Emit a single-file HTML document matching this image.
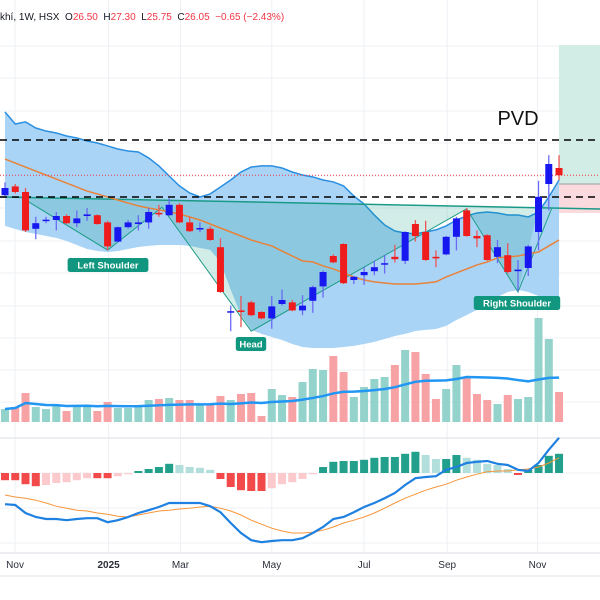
<!DOCTYPE html>
<html><head><meta charset="utf-8"><style>
html,body{margin:0;padding:0;background:#fff;width:600px;height:600px;overflow:hidden}
svg{display:block}
text{font-family:"Liberation Sans","DejaVu Sans",sans-serif}
</style></head><body>
<svg id="chart" width="600" height="600" viewBox="0 0 600 600" xmlns="http://www.w3.org/2000/svg"></svg>
<script>
// ---- data ----
const opens  = [24.80,25.35,25.0,22.7,23.2,23.25,23.5,23.05,23.5,23.55,23.1,21.9,22.8,23.0,23.1,23.7,23.55,24.2,23.1,22.7,22.7,21.55,17.5,17.6,18.1,17.5,17.1,18.0,18.1,17.6,18.2,19.1,21.0,21.75,19.5,19.8,20.05,20.5,20.95,20.7,23.0,22.5,20.95,21.1,22.2,23.85,22.25,22.3,20.95,21.05,20.05,20.25,22.5,25.5,26.5];
const highs  = [25.60,25.5,25.25,23.45,23.45,23.75,23.6,23.85,24.0,23.6,23.2,22.85,23.25,23.55,24.0,24.2,24.6,24.3,23.45,23.1,22.85,22.1,17.9,18.5,18.2,17.55,18.5,18.9,18.25,18.55,19.15,20.1,21.1,21.8,19.75,20.3,20.7,21.05,21.7,22.55,23.25,23.2,21.35,22.25,23.45,24.0,22.6,22.35,22.0,21.8,20.75,21.7,25.7,27.3,27.3];
const lows   = [24.75,24.9,22.5,22.05,23.05,22.6,23.0,22.8,23.2,22.95,21.35,21.85,22.7,22.6,22.7,23.45,23.5,23.05,22.5,22.5,21.95,18.7,16.3,16.55,17.25,17.05,16.45,17.9,17.55,17.3,17.45,18.4,20.55,19.25,19.25,19.2,19.8,19.9,20.6,20.5,21.9,20.7,20.3,21.05,21.35,22.2,21.55,20.7,20.55,19.9,18.8,19.75,21.35,23.85,25.75];
const closes = [25.25,25.0,22.6,23.05,23.27,23.5,23.05,23.35,23.6,23.0,21.6,22.8,23.1,23.1,23.75,23.6,24.2,23.1,22.55,22.75,22.0,18.75,17.55,17.5,17.3,17.1,17.85,18.25,17.6,17.9,19.05,20.0,20.6,19.3,19.7,20.0,20.3,20.55,20.8,22.5,22.25,20.75,20.85,22.2,23.35,22.25,22.1,20.75,21.55,20.0,20.15,21.6,24.7,26.75,26.05];
const bbUpper = [30.0,29.25,29.38,29.0,28.81,28.69,28.5,28.38,28.19,28.06,27.88,27.69,27.56,27.5,27.13,26.63,26.0,25.38,24.94,24.69,24.88,25.31,25.75,26.25,26.56,26.63,26.63,26.5,26.25,26.06,25.94,25.75,25.63,25.38,24.75,24.25,23.56,22.94,22.56,22.44,22.38,22.5,22.63,22.88,23.25,23.5,23.69,23.75,23.69,23.56,23.56,23.44,23.75,24.69,25.75];
const bbLower = [22.88,22.69,22.5,22.38,22.25,22.13,21.94,21.69,21.44,21.31,21.25,21.31,21.44,21.56,21.63,21.69,21.69,21.69,21.63,21.5,21.38,20.63,18.88,17.31,16.38,16.13,15.94,15.75,15.5,15.31,15.25,15.25,15.25,15.31,15.38,15.5,15.63,15.81,16.0,16.13,16.31,16.38,16.44,16.63,17.0,17.31,17.63,18.06,18.44,18.75,18.88,18.75,18.5,18.38,18.25];
const maLine = [27.06,26.81,26.56,26.31,26.06,25.81,25.56,25.31,25.06,24.88,24.69,24.5,24.31,24.13,24.0,23.88,23.75,23.63,23.44,23.25,23.0,22.75,22.5,22.25,22.0,21.81,21.63,21.31,21.0,20.69,20.63,20.38,20.19,19.94,19.69,19.5,19.38,19.31,19.25,19.25,19.25,19.31,19.38,19.69,19.94,20.19,20.44,20.63,20.88,20.94,21.0,21.13,21.25,21.63,22.0];
const volumes = [1.3,1.5,2.9,1.5,1.3,1.6,1.1,1.7,1.7,1.1,2.0,1.4,1.4,1.7,2.2,2.3,2.4,2.2,2.2,1.7,1.7,2.6,2.2,2.8,2.9,0.6,3.3,2.7,2.5,4.0,5.3,5.2,6.6,5.0,2.5,3.5,4.3,4.5,5.7,7.2,7.0,4.8,2.3,3.3,5.7,4.5,2.8,2.2,1.8,2.7,2.3,2.5,10.4,8.3,3.0];
const macdLine = [-0.78,-0.8,-1.0,-1.1,-1.15,-1.15,-1.18,-1.15,-1.13,-1.13,-1.23,-1.18,-1.1,-1.0,-0.93,-0.85,-0.75,-0.75,-0.75,-0.75,-0.83,-0.98,-1.25,-1.5,-1.68,-1.73,-1.7,-1.68,-1.68,-1.63,-1.5,-1.35,-1.15,-1.1,-0.98,-0.85,-0.75,-0.63,-0.5,-0.3,-0.13,-0.1,-0.08,0.08,0.15,0.25,0.28,0.3,0.23,0.2,0.08,0.05,0.25,0.58,0.88];
const signalLine = [-0.55,-0.6,-0.63,-0.68,-0.75,-0.83,-0.88,-0.93,-0.95,-1.0,-1.03,-1.08,-1.1,-1.05,-1.0,-0.95,-0.93,-0.9,-0.88,-0.85,-0.83,-0.88,-0.95,-1.05,-1.18,-1.28,-1.38,-1.45,-1.5,-1.5,-1.48,-1.43,-1.35,-1.25,-1.18,-1.1,-1.0,-0.88,-0.75,-0.63,-0.53,-0.43,-0.35,-0.28,-0.18,-0.1,-0.03,0.03,0.05,0.05,0.08,0.1,0.15,0.25,0.38];
const macdHist = [-0.18,-0.18,-0.28,-0.33,-0.3,-0.25,-0.23,-0.18,-0.13,-0.13,-0.13,-0.08,-0.03,0.05,0.1,0.15,0.23,0.2,0.15,0.13,0.08,-0.15,-0.35,-0.43,-0.45,-0.45,-0.38,-0.28,-0.23,-0.15,-0.03,0.15,0.28,0.3,0.3,0.33,0.38,0.4,0.4,0.48,0.53,0.45,0.35,0.35,0.45,0.38,0.33,0.23,0.2,0.1,-0.05,0.08,0.2,0.43,0.48];
const levelPrices = [28.25, 24.69];
const lastPrice = 26.05;
const neckline = [24.69, 23.94];           // price at left edge / right edge
const patternIdx = [1.5, 10, 15.3, 24, 45, 50, 53.3];
const patternPrices = [24.7, 21.37, 24.05, 16.3, 23.95, 18.75, 24.0];
const monthLabels = ["Nov","2025","Mar","May","Jul","Sep","Nov"];
const monthIdx = [0.98, 10.1, 17.1, 26.0, 35.0, 43.1, 51.9];

// ---- axes ----
const xOf = i => 5 + i * 10.26;
const yP = p => 592 - p * 16;
const yV = v => 422 - v * 10;
const yM = v => 473 - v * 40;

const NS = "http://www.w3.org/2000/svg";
const svg = document.getElementById("chart");
function el(tag, attrs, parent) {
  const e = document.createElementNS(NS, tag);
  for (const k in attrs) e.setAttribute(k, attrs[k]);
  (parent || svg).appendChild(e);
  return e;
}
function grp(name) {
  const g = el("g", {});
  
  
  return g;
}

// grid
const grid = grp("grid-lines");
[46,78,111,143,176,208,241,273,306,338,370,402].forEach(y => el("line",{x1:0,x2:600,y1:y,y2:y,stroke:"#eef0f4","stroke-width":1},grid));
[473,508,543].forEach(y => el("line",{x1:0,x2:600,y1:y,y2:y,stroke:"#eef0f4","stroke-width":1},grid));
monthIdx.forEach(i => el("line",{x1:xOf(i),x2:xOf(i),y1:0,y2:553,stroke:"#eef0f4","stroke-width":1},grid));
el("line",{x1:0,x2:600,y1:438,y2:438,stroke:"#e6e8ee","stroke-width":1.5},grid);
el("line",{x1:0,x2:600,y1:553,y2:553,stroke:"#e6e8ee","stroke-width":1.5},grid);
el("line",{x1:0,x2:600,y1:576,y2:576,stroke:"#eceef2","stroke-width":1.5},grid);

// position tool boxes
const pos = grp("long-position-tool");
el("rect",{x:559,y:45,width:41,height:139,fill:"#d2ece6"},pos);
el("rect",{x:559,y:184,width:41,height:29,fill:"#fadadd"},pos);
el("line",{x1:559,x2:600,y1:184,y2:184,stroke:"#9aa0a8","stroke-width":1},pos);

// bollinger fill
const n = closes.length;
const bb = grp("bollinger-bands");
let d = "";
for (let i=0;i<n;i++) d += (i?"L":"M") + xOf(i) + "," + yP(bbUpper[i]);
for (let i=n-1;i>=0;i--) d += "L" + xOf(i) + "," + yP(bbLower[i]);
const bbFill = el("path",{d:d+"Z",fill:"#aad4f6"},bb);

let du = "";
for (let i=0;i<n;i++) du += (i?"L":"M") + xOf(i) + "," + yP(bbUpper[i]);
const bbUp = el("path",{d:du,fill:"none",stroke:"#2b8fe0","stroke-width":1.5},bb);


// head & shoulders pattern
const hs = grp("head-and-shoulders-pattern");
const neckY = x => yP(neckline[0] + (neckline[1]-neckline[0]) * x / 600);
let pp = patternIdx.map((i,k)=>[xOf(i), yP(patternPrices[k])]);
let fillPts = pp.slice(0,6).map(p=>p.join(",")).join(" ") + " " + xOf(52) + "," + neckY(xOf(52));
el("polygon",{points:fillPts,fill:"rgba(8,153,129,0.18)"},hs);
el("polyline",{points:pp.map(p=>p.join(",")).join(" "),fill:"none",stroke:"#1f9c88","stroke-width":1},hs);
const neck = el("line",{x1:0,x2:600,y1:neckY(0),y2:neckY(600),stroke:"#1a9a86","stroke-width":1.5},hs);


// MA line
let dm = "";
for (let i=0;i<n;i++) dm += (i?"L":"M") + xOf(i) + "," + yP(maLine[i]);
const ma = el("path",{d:dm,fill:"none",stroke:"#e8823a","stroke-width":1.5});



// dashed levels
levelPrices.forEach(p => {
  const l = el("line",{x1:0,x2:600,y1:yP(p),y2:yP(p),stroke:"#000","stroke-width":1.5,"stroke-dasharray":"7,5"});
  
  
});
const lp = el("line",{x1:0,x2:600,y1:yP(lastPrice),y2:yP(lastPrice),stroke:"#f23645","stroke-width":1,"stroke-dasharray":"1,2"});



// volume
const vg = grp("volume-bars");
for (let i=0;i<n;i++) {
  const up = closes[i] >= opens[i];
  const r = el("rect",{x:xOf(i)-4,y:yV(volumes[i]),width:8,height:yV(0)-yV(volumes[i]),fill:up?"#93d3cc":"#f7a3a6"},vg);
  
  
}
let dv = "";
for (let i=0;i<n;i++) {
  const s = volumes.slice(Math.max(0,i-19), i+1);
  const avg = s.reduce((a,b)=>a+b,0)/s.length;
  dv += (i?"L":"M") + xOf(i) + "," + yV(avg);
}
const vma = el("path",{d:dv,fill:"none",stroke:"#2196f3","stroke-width":2.5});



// candles
const cg = grp("candlesticks");
for (let i=0;i<n;i++) {
  const up = closes[i] >= opens[i];
  const col = up ? "#1717f0" : "#ee1c1c";
  const g = el("g",{},cg);
  
  
  el("line",{x1:xOf(i),x2:xOf(i),y1:yP(highs[i]),y2:yP(lows[i]),stroke:up?"#6a6af5":"#ee5555","stroke-width":1.3},g);
  const top = yP(Math.max(opens[i],closes[i])), bot = yP(Math.min(opens[i],closes[i]));
  el("rect",{x:xOf(i)-3.5,y:top,width:7,height:Math.max(1.5,bot-top),fill:col},g);
}

// pattern labels
function label(txt, cx, cy, name) {
  const g = el("g",{});
  
  
  const w = txt.length * 5.6 + 8;
  el("rect",{x:cx-w/2,y:cy-7,width:w,height:14,rx:2.5,fill:"#11977f"},g);
  const t = el("text",{x:cx,y:cy+3.5,"text-anchor":"middle","font-size":"9.5","font-weight":"bold",fill:"#fff"},g);
  t.textContent = txt;
}
label("Left Shoulder", 108, 265, "left-shoulder-label");
label("Head", 251, 344, "head-label");
label("Right Shoulder", 517, 303, "right-shoulder-label");

// PVD
const pvd = el("text",{x:518,y:125,"text-anchor":"middle","font-size":"20",fill:"#111"});
pvd.textContent = "PVD";



// MACD
const mg = grp("macd-histogram");
for (let i=0;i<n;i++) {
  const v = macdHist[i], prev = i ? macdHist[i-1] : v;
  let c;
  if (v >= 0) c = v >= prev ? "#22a08c" : "#b2dfdb";
  else c = v <= prev ? "#f24a4a" : "#fcc9cd";
  const y0 = yM(0), y1 = yM(v);
  const r = el("rect",{x:xOf(i)-4,y:Math.min(y0,y1),width:8,height:Math.max(1,Math.abs(y1-y0)),fill:c},mg);
  
  
}
let ds = "", dmc = "";
for (let i=0;i<n;i++) { ds += (i?"L":"M")+xOf(i)+","+yM(signalLine[i]); dmc += (i?"L":"M")+xOf(i)+","+yM(macdLine[i]); }
const sl = el("path",{d:ds,fill:"none",stroke:"#f7953a","stroke-width":1});


const ml = el("path",{d:dmc,fill:"none",stroke:"#1e80e0","stroke-width":2.2});



// x axis labels
const xa = grp("x-axis");
monthLabels.forEach((m,k) => {
  const t = el("text",{x:xOf(monthIdx[k]),y:568,"text-anchor":"middle","font-size":"10",fill:"#2a2e39","font-weight":m==="2025"?"bold":"normal"},xa);
  t.textContent = m;
  
  
});

// header
const hdr = el("text",{x:0,y:20,"font-size":"10",fill:"#131722"});


const parts = [["khí, 1W, HSX  ","#131722"],["O","#131722"],["26.50  ","#f23645"],["H","#131722"],["27.30  ","#f23645"],["L","#131722"],["25.75  ","#f23645"],["C","#131722"],["26.05  ","#f23645"],["−0.65 (−2.43%)","#f23645"]];
parts.forEach(([s,c]) => { const ts = el("tspan",{fill:c},hdr); ts.textContent = s; ts.setAttribute("xml:space","preserve"); });
hdr.setAttribute("style","white-space:pre");
</script>
</body></html>
